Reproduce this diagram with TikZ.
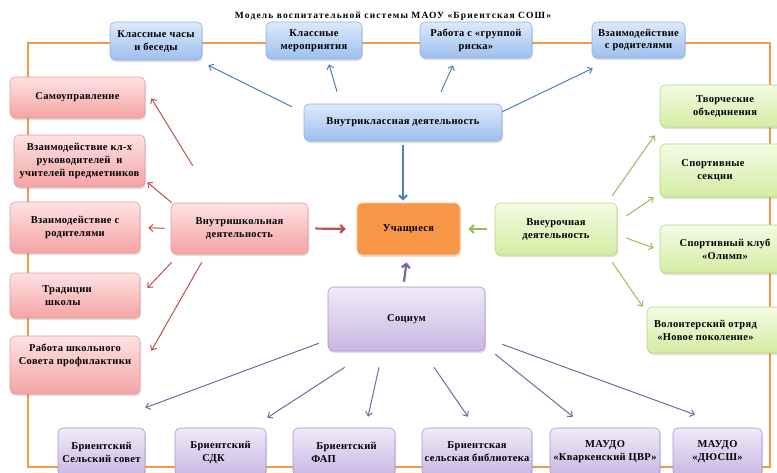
\documentclass[tikz,border=0pt]{standalone}
\usepackage{fontspec}
\setmainfont{Liberation Serif}
\usetikzlibrary{arrows.meta,shadows,calc}
\definecolor{bluetop}{HTML}{DCE9FB}
\definecolor{bluebot}{HTML}{9DBFEE}
\definecolor{bluebd}{HTML}{8EB0E0}
\definecolor{redtop}{HTML}{FEE2E2}
\definecolor{redbot}{HTML}{F5A3A3}
\definecolor{redbd}{HTML}{E49B9B}
\definecolor{greentop}{HTML}{F4FBE3}
\definecolor{greenbot}{HTML}{D3EDA3}
\definecolor{greenbd}{HTML}{B5D67E}
\definecolor{purtop}{HTML}{F0EAF8}
\definecolor{purbot}{HTML}{C8B7E3}
\definecolor{purbd}{HTML}{A995CF}
\definecolor{orfill}{HTML}{F79646}
\definecolor{orbd}{HTML}{FBC9A0}
\definecolor{framec}{HTML}{F79646}
\definecolor{ablue}{HTML}{4F81BD}
\definecolor{ared}{HTML}{C0504D}
\definecolor{agreen}{HTML}{9BBB59}
\definecolor{apurple}{HTML}{8064A2}
\begin{document}
\begin{tikzpicture}[x=1pt,y=-1pt,
  box/.style={rounded corners=5pt, line width=0.6pt, align=center,
    font=\bfseries\fontsize{10.5}{13}\selectfont\addfontfeatures{LetterSpace=3}, inner sep=2pt,
    drop shadow={shadow xshift=1pt, shadow yshift=-2pt, opacity=0.25}},
  bluebox/.style={box, draw=bluebd, top color=bluetop, bottom color=bluebot},
  redbox/.style={box, draw=redbd, top color=redtop, bottom color=redbot},
  greenbox/.style={box, draw=greenbd, top color=greentop, bottom color=greenbot},
  purbox/.style={box, draw=purbd, top color=purtop, bottom color=purbot},
  orbox/.style={box, draw=orbd, fill=orfill},
  arr/.style={line width=1pt, -{Straight Barb[length=4pt,width=7pt]}},
  thickarr/.style={line width=2.2pt, -{Straight Barb[length=4pt,width=8pt]}},
  framec/.style={draw=framec, line width=1.8pt}
]
\useasboundingbox (0,0) rectangle (777,472);
\clip (0,0) rectangle (777,472);
\fill[white] (0,0) rectangle (777,472);

\node[font=\bfseries\fontsize{9.5}{11}\selectfont\addfontfeatures{LetterSpace=12}] (title) at (393,16) {Модель воспитательной системы МАОУ «Бриентская СОШ»};

\draw[framec] (28,43) rectangle (770,467);

% top blue
\node[bluebox, minimum width=92pt, minimum height=38pt] (kch) at (156,41) {Классные часы\\и беседы};
\node[bluebox, minimum width=96pt, minimum height=37pt] (kmer) at (314,40.5) {Классные\\мероприятия};
\node[bluebox, minimum width=112pt, minimum height=36pt] (risk) at (476,40) {Работа с «группой\\риска»};
\node[bluebox, minimum width=93pt, minimum height=36pt] (vrod) at (638.5,40) {Взаимодействие\\с родителями};
\node[bluebox, minimum width=198pt, minimum height=37pt] (vk) at (403,122.5) {Внутриклассная деятельность};

\node[orbox, minimum width=103pt, minimum height=52pt] (uch) at (408.5,229) {Учащиеся};

% left red
\node[redbox, minimum width=135pt, minimum height=41pt] (sam) at (77.5,97.5) {Самоуправление};
\node[redbox, minimum width=131pt, minimum height=52pt] (vkl) at (79.5,161) {Взаимодействие кл-х\\руководителей\ \ и\\учителей предметников};
\node[redbox, minimum width=130pt, minimum height=51pt] (vrod2) at (75,227.5) {Взаимодействие с\\родителями};
\node[redbox, minimum width=137pt, minimum height=51pt] (vsh) at (239.5,228.5) {Внутришкольная\\деятельность};
\node[redbox, minimum width=130pt, minimum height=45pt, align=left] (trad) at (75,295.5) {Традиции\hspace*{16pt}\\\ школы};
\node[redbox, minimum width=130pt, minimum height=58pt] (sovet) at (75,365) {Работа школьного\\Совета профилактики\\[8pt]};

% right green
\node[greenbox, minimum width=130pt, minimum height=42pt] (tvor) at (725,106) {Творческие\\объединения};
\node[greenbox, minimum width=130pt, minimum height=53pt] (sport) at (725,170.5) {Спортивные\hspace*{24pt}\\секции\hspace*{20pt}};
\node[greenbox, minimum width=130pt, minimum height=48pt] (olimp) at (725,249) {Спортивный клуб\\«Олимп»};
\node[greenbox, minimum width=143pt, minimum height=46pt] (volont) at (718.5,330) {Волонтерский отряд\hspace*{26pt}\\«Новое поколение»\hspace*{26pt}};
\node[greenbox, minimum width=122pt, minimum height=52pt] (vneur) at (556,229) {Внеурочная\\деятельность};

% socium
\node[purbox, minimum width=157pt, minimum height=64pt] (soc) at (406.5,319) {Социум};
\node[purbox, minimum width=87pt, minimum height=48pt] (b1) at (101.5,452) {Бриентский\\Сельский совет};
\node[purbox, minimum width=91pt, minimum height=48pt, align=left] (b2) at (220.5,452) {Бриентский\\\hspace*{12pt}СДК};
\node[purbox, minimum width=102pt, minimum height=48pt, align=left] (b3) at (344,452) {\hspace*{5pt}Бриентский\\ФАП};
\node[purbox, minimum width=110pt, minimum height=48pt] (b4) at (477,452) {Бриентская\\сельская библиотека};
\node[purbox, minimum width=110pt, minimum height=48pt] (b5) at (605,452) {МАУДО\\«Кваркенский ЦВР»};
\node[purbox, minimum width=89pt, minimum height=48pt] (b6) at (717.5,452) {МАУДО\\«ДЮСШ»};

% blue arrows
\draw[arr, ablue] ([xshift=-12pt,yshift=-3pt]vk.north west) -- ([xshift=6pt,yshift=-5pt]kch.south east);
\draw[arr, ablue] ([xshift=-66pt,yshift=12pt]vk.north) -- ([xshift=15pt,yshift=-5pt]kmer.south);
\draw[arr, ablue] ([xshift=38pt,yshift=12pt]vk.north) -- ([xshift=-23pt,yshift=-7pt]risk.south);
\draw[arr, ablue] ([yshift=-8pt]vk.north east) -- ([xshift=1pt,yshift=-10pt]vrod.south west);
\draw[thickarr, ablue] ([yshift=-4pt]vk.south) -- ([yshift=2pt]vk.south |- uch.north);

% red arrows
\draw[thickarr, ared, shorten <=7pt, shorten >=11pt] (vsh.east) -- (uch.west);
\draw[arr, ared] ([xshift=22pt,yshift=37pt]vsh.north west) -- ([xshift=6pt,yshift=20pt]sam.south east);
\draw[arr, ared] ([xshift=1pt]vsh.north west) -- ([xshift=2pt,yshift=5pt]vkl.south east);
\draw[arr, ared, shorten <=6pt, shorten >=8pt] (vsh.west) -- (vrod2.east);
\draw[arr, ared] ([xshift=1pt,yshift=-8pt]vsh.south west) -- ([xshift=7pt,yshift=7.5pt]trad.east);
\draw[arr, ared] ([xshift=31pt,yshift=-8pt]vsh.south west) -- ([xshift=11pt,yshift=-15pt]sovet.north east);

% green arrows
\draw[thickarr, agreen, shorten <=8pt, shorten >=8pt] (vneur.west) -- (uch.east);
\draw[arr, agreen] ([xshift=-5pt,yshift=7pt]vneur.north east) -- ([xshift=-5pt,yshift=-8pt]tvor.south west);
\draw[arr, agreen] ([xshift=9pt,yshift=13pt]vneur.east) -- ([xshift=-6pt]sport.south west);
\draw[arr, agreen] ([xshift=9pt,yshift=-9pt]vneur.east) -- ([xshift=-6pt,yshift=1pt]olimp.west);
\draw[arr, agreen] ([xshift=-5pt,yshift=-7pt]vneur.south east) -- ([xshift=-4pt]volont.north west);

% purple arrows
\draw[thickarr, apurple] ([xshift=-2.5pt,yshift=5pt]soc.north) -- ([yshift=-7pt]soc.north |- uch.south);
\draw[arr, apurple] ([xshift=-9pt,yshift=8pt]soc.south west) -- ([yshift=20pt]b1.north east);
\draw[arr, apurple] ([xshift=17pt,yshift=-16pt]soc.south west) -- ([xshift=1pt,yshift=10pt]b2.north east);
\draw[arr, apurple] ([xshift=-27.5pt,yshift=-16pt]soc.south) -- ([xshift=24pt,yshift=11pt]b3.north);
\draw[arr, apurple] ([xshift=27.5pt,yshift=-16pt]soc.south) -- ([xshift=-9pt,yshift=11pt]b4.north);
\draw[arr, apurple] ([xshift=10pt,yshift=-3pt]soc.south east) -- ([xshift=-32pt,yshift=11pt]b5.north);
\draw[arr, apurple] ([xshift=17pt,yshift=7pt]soc.south east) -- ([xshift=-22.5pt,yshift=13pt]b6.north);
\end{tikzpicture}
\end{document}
